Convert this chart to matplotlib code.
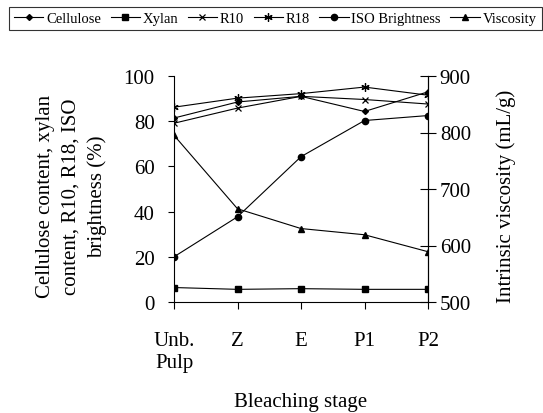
import matplotlib
matplotlib.use("Agg")
import matplotlib.pyplot as plt

plt.rcParams['font.family'] = ['Liberation Serif', 'DejaVu Serif']

stages = ["Unb.\nPulp", "Z", "E", "P1", "P2"]
cellulose = [81.4, 88.5, 91.0, 84.3, 93.0]
xylan = [6.4, 5.6, 5.9, 5.6, 5.6]
r10 = [79.1, 85.8, 91.0, 89.6, 87.6]
r18 = [86.2, 90.2, 92.2, 95.1, 91.5]
brightness = [20.0, 37.7, 64.3, 80.3, 82.5]
viscosity = [795, 665, 630, 619, 589]

x = list(range(len(stages)))
FS = 15

fig = plt.figure(figsize=(5.43, 4.14), dpi=100)
ax = fig.add_axes([174/543, 1-303/414, (428-174)/543, (303-77)/414])
ax2 = ax.twinx()

kw = dict(color="black", lw=0.8)
h1, = ax.plot(x, cellulose, marker="D", ms=3, label="Cellulose", **kw)
h2, = ax.plot(x, xylan, marker="s", ms=4.5, label="Xylan", **kw)
h3, = ax.plot(x, r10, marker="x", ms=5, mew=0.9, label="R10", **kw)
h4, = ax.plot(x, r18, marker=(6, 2, 0), ms=6, mew=0.9, label="R18", **kw)
h5, = ax.plot(x, brightness, marker="o", ms=4.5, label="ISO Brightness", **kw)
h6, = ax2.plot(x, viscosity, marker="^", ms=4.5, label="Viscosity", **kw)

ax.set_xlim(0, 4)
ax.set_ylim(0, 100)
ax2.set_ylim(500, 900)
ax.set_yticks([0, 20, 40, 60, 80, 100])
ax2.set_yticks([500, 600, 700, 800, 900])
ax.set_xticks(x)
ax.set_xticklabels(stages, fontsize=FS)
ax.tick_params(axis="y", labelsize=FS, direction="out", length=4, width=0.8, pad=10)
ax.tick_params(axis="x", labelsize=FS, direction="out", length=5, width=0.8, pad=16)
ax2.tick_params(axis="y", labelsize=FS, direction="inout", length=11, width=0.8, pad=3)

for a in (ax, ax2):
    a.spines["top"].set_visible(False)
    for s in a.spines.values():
        s.set_linewidth(0.8)
ax2.spines["left"].set_visible(False)
ax2.spines["bottom"].set_visible(False)

ax.set_ylabel("Cellulose content, xylan\ncontent, R10, R18, ISO\nbrightness (%)",
              fontsize=FS, linespacing=1.45)
ax.yaxis.set_label_coords(-0.265, 0.47)
ax2.set_ylabel("Intrinsic viscosity (mL/g)", fontsize=FS)
ax2.yaxis.set_label_coords(1.27, 0.47)
ax.set_xlabel("Bleaching stage", fontsize=FS)
ax.xaxis.set_label_coords(0.5, -0.40)

leg = fig.legend(handles=[h1, h2, h3, h4, h5, h6], loc="upper left",
                 bbox_to_anchor=(9/543, 1-8/414), ncol=6, fontsize=10.5,
                 frameon=True, fancybox=False, handlelength=2.0, handletextpad=0.2,
                 columnspacing=0.65, borderpad=0.35, borderaxespad=0)
leg.get_frame().set_edgecolor("black")
leg.get_frame().set_linewidth(0.8)

fig.savefig("out.png", dpi=100)
